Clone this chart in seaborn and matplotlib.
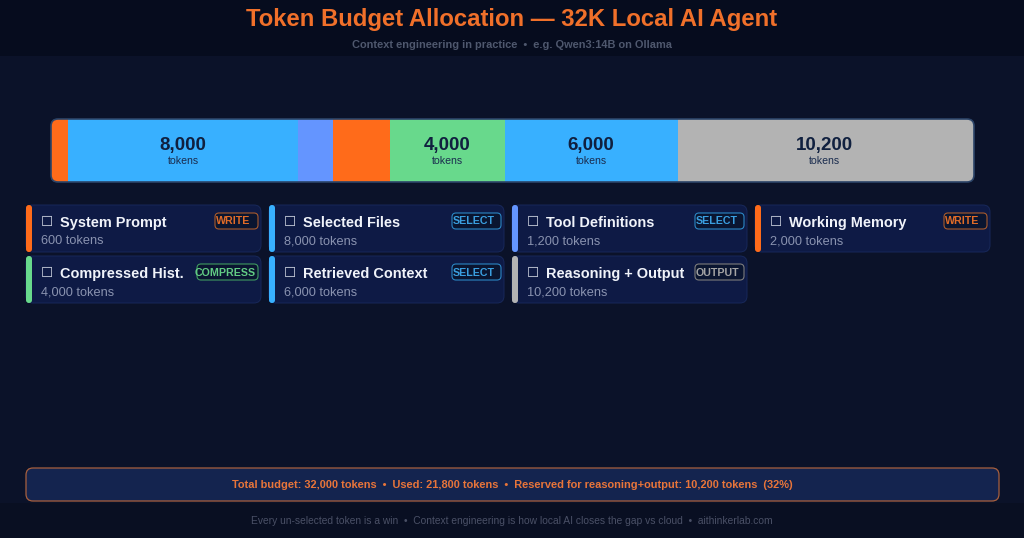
import matplotlib
matplotlib.use("Agg")
import matplotlib.pyplot as plt
import seaborn as sns
from matplotlib.patches import FancyBboxPatch, Rectangle

names = ["System Prompt", "Selected Files", "Tool Definitions", "Working Memory",
         "Compressed Hist.", "Retrieved Context", "Reasoning + Output"]
tokens = [600, 8000, 1200, 2000, 4000, 6000, 10200]
badges = ["WRITE", "SELECT", "SELECT", "WRITE", "COMPRESS", "SELECT", "OUTPUT"]
seg_colors = ["#ff6b1a", "#38b0ff", "#6495ff", "#ff6b1a", "#68d98c", "#38b0ff", "#b3b3b3"]
badge_text = {"WRITE": "#e26c28", "SELECT": "#3a9fe0", "COMPRESS": "#62cc84", "OUTPUT": "#a4a4a4"}
badge_edge = {"WRITE": "#a85a2c", "SELECT": "#2b86c4", "COMPRESS": "#3f9a60", "OUTPUT": "#7c7c7c"}
badge_widths = {"WRITE": 43, "SELECT": 49, "COMPRESS": 61, "OUTPUT": 49}
BUDGET = 32000

sns.set_theme(style="white")
plt.rcParams["font.family"] = ["Liberation Sans", "DejaVu Sans"]

fig = plt.figure(figsize=(10.24, 5.38), dpi=100, facecolor="#0b1229")
bg = fig.add_axes([0, 0, 1, 1], zorder=0)
bg.set_xlim(0, 1024)
bg.set_ylim(538, 0)
bg.axis("off")
px = lambda p: p * 0.72


def rbox(ax, x, y, w, h, r, fc, ec, lw=1.0, z=2):
    p = FancyBboxPatch((x + r, y + r), w - 2 * r, h - 2 * r,
                       boxstyle=f"round,pad={r},rounding_size={r}",
                       fc=fc, ec=ec, lw=lw, zorder=z, transform=bg.transData, clip_on=False)
    ax.add_patch(p)
    return p


bg.add_patch(Rectangle((0, 0), 1024, 56, fc="#060c1e", ec="none", zorder=1))
bg.add_patch(Rectangle((0, 503), 1024, 35, fc="#090f22", ec="none", zorder=1))
bg.text(512, 19.8, "Token Budget Allocation — 32K Local AI Agent", color="#f0702a", fontsize=px(23.85),
        fontweight="bold", ha="center", va="center", zorder=3)
bg.text(512, 44.5, "Context engineering in practice  •  e.g. Qwen3:14B on Ollama", color="#4f586e",
        fontsize=px(11), fontweight="bold", ha="center", va="center", zorder=3)

# track behind the stacked bar
rbox(bg, 51, 119, 923, 63, 7, "#b3b3b3", "none", lw=0, z=1)

# stacked budget bar
ax = fig.add_axes([50.75 / 1024, 1 - 182 / 538, 920 / 1024, 63 / 538], zorder=1)
ax.patch.set_alpha(0)
left = 0
for v, c in zip(tokens, seg_colors):
    sns.barplot(x=[v], y=["Budget"], orient="h", color=c, saturation=1, width=1, left=left,
                ax=ax, linewidth=0)
    if v >= 4000:
        ax.text(left + v / 2, -0.075, f"{v:,}", ha="center", va="center", color="#10203f",
                fontsize=px(18.8), fontweight="bold")
        ax.text(left + v / 2, 0.165, "tokens", ha="center", va="center", color="#1a2c4e",
                fontsize=px(10.5))
    left += v
ax.set_xlim(0, BUDGET)
ax.set_ylim(0.5, -0.5)
ax.set_xlabel("")
ax.set_ylabel("")
ax.set_xticks([])
ax.set_yticks([])
sns.despine(ax=ax, left=True, bottom=True)
clip = rbox(ax, 51, 119, 923, 63, 7, "none", "#2c4468", lw=1.2, z=5)
for b in ax.patches:
    if b is not clip:
        b.set_clip_path(clip)

# cards
col_x = [26, 269, 512, 755]
row_y = [205, 256]
for i, (n, t, b, c) in enumerate(zip(names, tokens, badges, seg_colors)):
    x = col_x[i % 4]
    y = row_y[i // 4]
    rbox(bg, x, y, 235, 47, 7, "#0e1a45", "#18285a", lw=0.7)
    rbox(bg, x, y, 6, 47, 2.9, c, "none", lw=0, z=3)
    bg.text(x + 20.5, y + 17, "☐", family=["DejaVu Sans"], color="#d5dae6", fontsize=px(13.5),
            ha="center", va="center", zorder=4)
    bg.text(x + 34, y + 18, n, color="#f0f3fa", fontsize=px(14.5), fontweight="bold",
            ha="left", va="center", zorder=4)
    bg.text(x + 15, y + 36.5, f"{t:,} tokens", color="#8a93b0", fontsize=px(12.8),
            ha="left", va="center", zorder=4)
    w = badge_widths[b]
    rbox(bg, x + 232 - w, y + 8, w, 16, 4, "#0a1530", badge_edge[b], lw=0.8, z=3)
    bg.text(x + 232 - w + (1 if b != "COMPRESS" else -2), y + 16.5, b, color=badge_text[b],
            fontsize=px(10.6), fontweight="bold", ha="left", va="center", zorder=4)

# summary + footer
used = sum(tokens[:-1])
rbox(bg, 26, 468, 973, 33, 7, "#14244f", "#a8603e", lw=0.9)
bg.text(512, 484.5,
        f"Total budget: {BUDGET:,} tokens  •  Used: {used:,} tokens  •  "
        f"Reserved for reasoning+output: {tokens[-1]:,} tokens  ({tokens[-1] / BUDGET:.0%})",
        color="#e8753a", fontsize=px(11.05), fontweight="bold", ha="center", va="center", zorder=4)
bg.text(512, 520.5,
        "Every un-selected token is a win  •  Context engineering is how local AI closes the gap vs cloud  •  aithinkerlab.com",
        color="#4a5066", fontsize=px(10.2), ha="center", va="center", zorder=4)

fig.savefig("out.png", dpi=100, facecolor=fig.get_facecolor())
